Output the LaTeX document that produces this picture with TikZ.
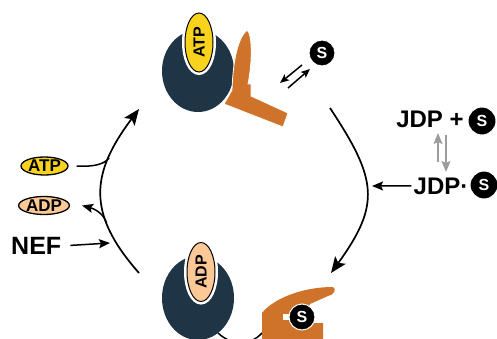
\documentclass[tikz,border=0pt]{standalone}
\usepackage{fontspec}
\setmainfont{Liberation Sans}
\usetikzlibrary{arrows.meta,shapes.geometric}

\definecolor{hspblue}{HTML}{1F3445}
\definecolor{jdporange}{HTML}{D0732A}
\definecolor{atpyellow}{HTML}{F8D21C}
\definecolor{adppeach}{HTML}{FCC896}
\definecolor{eqgray}{HTML}{9C9C9C}

\begin{document}
\begin{tikzpicture}[x=1pt, y=-1pt,
    cyc/.style={line width=1.7pt, -{Stealth[length=16pt,width=13pt,inset=3.5pt]}},
    flow/.style={line width=1.5pt, -{Stealth[length=11pt,width=9pt,inset=2pt]}},
    half/.style={line width=1.5pt, -{Stealth[length=9pt,width=7.5pt,inset=2pt]}},
    subs/.style={circle, fill=black, draw=white, line width=1pt, minimum size=26pt, inner sep=0pt, text=white, font=\bfseries\fontsize{16}{16}\selectfont},
    nuc/.style={ellipse, draw, line width=1.3pt, minimum width=47pt, minimum height=18pt, inner sep=0pt, font=\bfseries\fontsize{17}{17}\selectfont},
    pill/.style={ellipse, draw, line width=1pt, preaction={draw=white, line width=6pt}, minimum width=59pt, minimum height=28pt, inner sep=0pt, rotate=90, font=\bfseries\fontsize{16}{16}\selectfont},
    big/.style={inner sep=0pt, font=\bfseries\fontsize{24}{24}\selectfont}]
    \useasboundingbox (0,0) rectangle (497,339);

    % end points of the cycle
    \coordinate (lbot) at (139,273);
    \coordinate (ltop) at (139,109);
    \coordinate (rtop) at (330,108);
    \coordinate (rbot) at (331,273);
    \coordinate (bleft) at (218,333);
    \coordinate (bright) at (262,333);

    \draw[cyc] (lbot) .. controls (86,213) and (91,173) .. (ltop)
        coordinate[pos=0.72] (atpjoin) coordinate[pos=0.3] (adpjoin);
    \draw[cyc] (rtop) .. controls (377,179) and (381,204) .. (rbot);
    \draw[line width=1.5pt] (bleft) .. controls (232,346) and (250,346) .. (bright);

    % top: ATP state with open lid
    \fill[hspblue] (198,71) ellipse [x radius=36, y radius=41];
    \filldraw[jdporange, draw=white, line width=0.8pt] (247,30) .. controls (238,38) and (233,60) .. (232,90)
        -- (224,104) -- (283,127) -- (288,113) -- (251,96) -- (251,84) -- (248,84)
        .. controls (252,65) and (253,35) .. (247,30) -- cycle;
    \node[pill, fill=atpyellow] (atpbound) at (199,42.5) {ATP};
    \node[subs] (stop) at (322,53) {S};

    % bottom: ADP state with closed lid
    \fill[hspblue] (198,298) ellipse [x radius=36, y radius=42];
    \fill[jdporange] (262,339) -- (262,313) .. controls (272,300) and (300,287) .. (333,287)
        .. controls (337,289) and (334,295) .. (328,296) -- (310,304) -- (305,314) -- (283,314)
        -- (283,320) -- (305,320) -- (310,323) -- (323,323) -- (323,339) -- cycle;
    \fill[white] (283,314) rectangle (305,320);
    \node[pill, fill=adppeach] (adpbound) at (201,272) {ADP};
    \node[subs] (sbot) at (302,317) {S};

    % substrate release
    \coordinate (relA) at (302,65);
    \coordinate (relB) at (280,83);
    \coordinate (bindA) at (288,88);
    \coordinate (bindB) at (310,69);
    \draw[half] (relA) -- (relB);
    \draw[half] (bindA) -- (bindB);

    % nucleotide exchange
    \node[nuc, fill=atpyellow] (atpnuc) at (44.5,166) {ATP};
    \node[nuc, fill=adppeach] (adpnuc) at (44,205.5) {ADP};
    \node[big, font=\bfseries\fontsize{25}{25}\selectfont, anchor=base west] (nef) at (11,254) {NEF};
    \coordinate (nefin) at (110,243);
    \draw[line width=1.5pt] ([xshift=8pt]atpnuc.east) .. controls (95,167) and (104,164) .. (atpjoin);
    \draw[flow] (adpjoin) .. controls (104,214) and (95,209) .. ([xshift=12pt]adpnuc.east);
    \draw[flow] ([xshift=9pt]nef.east) -- (nefin);

    % J-domain protein
    \node[big, anchor=base] (jdpfree) at (430,128) {JDP +};
    \node[subs, minimum size=28pt] (sfree) at (482,121) {S};
    \node[big, anchor=base] (jdpbound) at (441,194) {JDP·};
    \node[subs, minimum size=28pt] (sbound) at (484,185) {S};
    \coordinate (jdpin) at (372,186);
    \draw[flow] ([xshift=-2pt]jdpbound.west) -- (jdpin);
    \coordinate (eqA) at (438,162);
    \coordinate (eqB) at (438,133);
    \coordinate (eqC) at (446,135);
    \coordinate (eqD) at (446,172);
    \draw[flow, eqgray] (eqA) -- (eqB);
    \draw[flow, eqgray] (eqC) -- (eqD);
\end{tikzpicture}
\end{document}
